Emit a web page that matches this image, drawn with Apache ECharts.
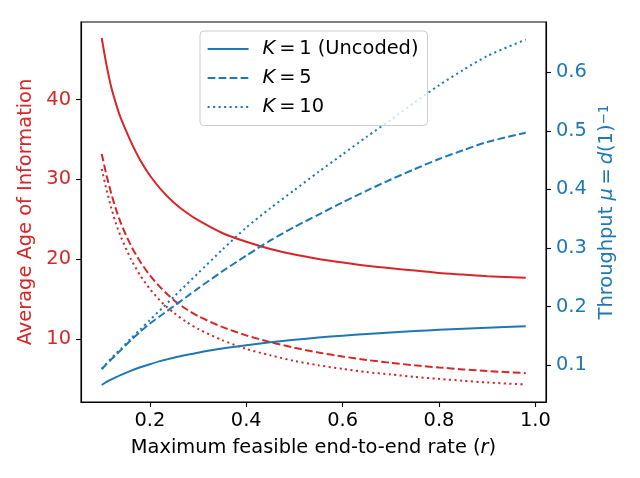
<!DOCTYPE html>
<html>
<head>
<meta charset="utf-8">
<script src="https://cdn.jsdelivr.net/npm/echarts@6/dist/echarts.min.js"></script>
<style>html,body{margin:0;padding:0;background:#fff}#c{width:640px;height:478px}</style>
</head>
<body>
<div id="c"></div>
<script>
// Data
var rates = [0.1,0.11,0.12,0.13,0.14,0.16,0.18,0.2,0.225,0.25,0.275,0.3,0.35,0.4,0.45,0.5,0.55,0.6,0.65,0.7,0.75,0.8,0.85,0.9,0.98];
var ageK1 = [47.7,44.3,41.5,39.4,37.6,34.8,32.4,30.5,28.6,27.1,25.9,24.9,23.3,22.2,21.3,20.6,20.05,19.6,19.2,18.9,18.6,18.3,18.1,17.9,17.7];
var ageK5 = [33.2,30.5,28.2,26.2,24.5,21.8,19.7,18.0,16.3,14.9,13.8,12.9,11.55,10.5,9.65,8.95,8.35,7.85,7.42,7.06,6.75,6.48,6.24,6.03,5.77];
var ageK10 = [31.3,28.7,26.4,24.4,22.8,20.1,18.0,16.3,14.6,13.3,12.2,11.3,9.9,8.8,8.0,7.3,6.75,6.3,5.9,5.6,5.3,5.05,4.82,4.6,4.35];
var thrK1 = [0.066,0.0712,0.0755,0.0795,0.0833,0.0902,0.0963,0.1016,0.1077,0.1127,0.1171,0.1212,0.1282,0.134,0.139,0.1432,0.147,0.1503,0.1532,0.1558,0.1581,0.1602,0.1621,0.1639,0.1665];
var thrK5 = [0.093,0.102,0.110,0.118,0.126,0.142,0.157,0.171,0.186,0.201,0.216,0.231,0.260,0.287,0.313,0.336,0.357,0.378,0.398,0.417,0.435,0.452,0.467,0.481,0.497];
var thrK10 = [0.094,0.103,0.112,0.120,0.128,0.145,0.161,0.177,0.197,0.217,0.237,0.257,0.297,0.335,0.368,0.399,0.430,0.460,0.490,0.519,0.549,0.578,0.604,0.628,0.656];
var xTicks = [0.2,0.4,0.6,0.8,1.0];
var ageTicks = [10,20,30,40];
var thrTicks = [0.1,0.2,0.3,0.4,0.5,0.6];
var legendNames = {K1: '{i|K}{n|\u2009=\u20091 (Uncoded)}', K5: '{i|K}{n|\u2009=\u20095}', K10: '{i|K}{n|\u2009=\u200910}'};

var RED = '#d62728', BLUE = '#1f77b4', FONT = 'DejaVu Sans', FS = 19.4;
function pairs(ys){ return rates.map(function(r,i){ return [r, ys[i]]; }); }
var DASH = [7.7, 3.3], DOT = [2.1, 3.4];
function line(name, ys, color, yIdx, type){
  return {name: name, type: 'line', data: pairs(ys), yAxisIndex: yIdx, symbol: 'none', showSymbol: false,
    smooth: 0.25, z: 2,
    lineStyle: {color: color, width: 2, type: type, cap: 'butt'}, itemStyle: {color: color}};
}
var chart = echarts.init(document.getElementById('c'), null, {renderer: 'canvas'});
chart.setOption({
  animation: false,
  textStyle: {fontFamily: FONT},
  grid: {left: 81, right: 94, top: 22, bottom: 76, show: true, borderColor: '#000', borderWidth: 1.1, backgroundColor: 'transparent'},
  legend: {
    show: true, orient: 'vertical', left: 200, top: 31,
    data: ['K1','K5','K10'],
    itemWidth: 41, itemHeight: 20, itemGap: 10,
    padding: [8.5, 9, 9, 6.6],
    itemStyle: {opacity: 0},
    backgroundColor: 'rgba(255,255,255,0.8)', borderColor: '#cccccc', borderWidth: 1, borderRadius: 4,
    formatter: function(n){ return legendNames[n]; },
    textStyle: {fontFamily: FONT, fontSize: FS, color: '#000', padding: [0,0,0,9],
      rich: {i: {fontStyle: 'italic', fontSize: FS, fontFamily: FONT}, n: {fontSize: FS, fontFamily: FONT}}}
  },
  xAxis: {
    type: 'value', min: 0.057, max: 1.022,
    name: '{n|Maximum feasible end-to-end rate (}{i|r}{n|)}', nameLocation: 'middle', nameGap: 36,
    nameTextStyle: {fontSize: FS, color: '#000', rich: {n: {fontSize: FS, fontFamily: FONT}, i: {fontSize: FS, fontStyle: 'italic', fontFamily: FONT}}},
    axisLine: {show: true, lineStyle: {color: '#000', width: 1.1}},
    axisTick: {show: true, length: 5, customValues: xTicks, lineStyle: {color: '#000', width: 1.1}},
    axisLabel: {customValues: xTicks, margin: 9, fontSize: FS, color: '#000', formatter: function(v){ return v.toFixed(1); }},
    splitLine: {show: false}
  },
  yAxis: [{
    type: 'value', min: 2.16, max: 49.7, position: 'left',
    name: 'Average Age of Information', nameLocation: 'middle', nameGap: 40, nameRotate: 90,
    nameTextStyle: {fontSize: FS, color: RED},
    axisLine: {show: true, lineStyle: {color: '#000', width: 1.1}},
    axisTick: {show: true, length: 5, customValues: ageTicks, lineStyle: {color: '#000', width: 1.1}},
    axisLabel: {customValues: ageTicks, margin: 10, fontSize: FS, color: RED},
    splitLine: {show: false}
  }, {
    type: 'value', min: 0.037, max: 0.686, position: 'right',
    name: '{n|Throughput }{i|μ}{n|\u2009=\u2009}{i|d}{n|(1)}{s|−1}', nameLocation: 'middle', nameGap: 50, nameRotate: 90,
    nameTextStyle: {fontSize: FS, color: BLUE, rich: {
      n: {fontSize: FS, color: BLUE, fontFamily: FONT},
      i: {fontSize: FS, color: BLUE, fontStyle: 'italic', fontFamily: FONT},
      s: {fontSize: 13.5, color: BLUE, fontFamily: FONT, verticalAlign: 'top'}}},
    axisLine: {show: true, lineStyle: {color: '#000', width: 1.1}},
    axisTick: {show: true, length: 5, customValues: thrTicks, lineStyle: {color: '#000', width: 1.1}},
    axisLabel: {customValues: thrTicks, margin: 10, fontSize: FS, color: BLUE, formatter: function(v){ return v.toFixed(1); }},
    splitLine: {show: false}
  }],
  series: [
    line('A1', ageK1, RED, 0, 'solid'),
    line('A5', ageK5, RED, 0, DASH),
    line('A10', ageK10, RED, 0, DOT),
    line('K1', thrK1, BLUE, 1, 'solid'),
    line('K5', thrK5, BLUE, 1, DASH),
    line('K10', thrK10, BLUE, 1, DOT)
  ]
});
</script>
</body>
</html>
